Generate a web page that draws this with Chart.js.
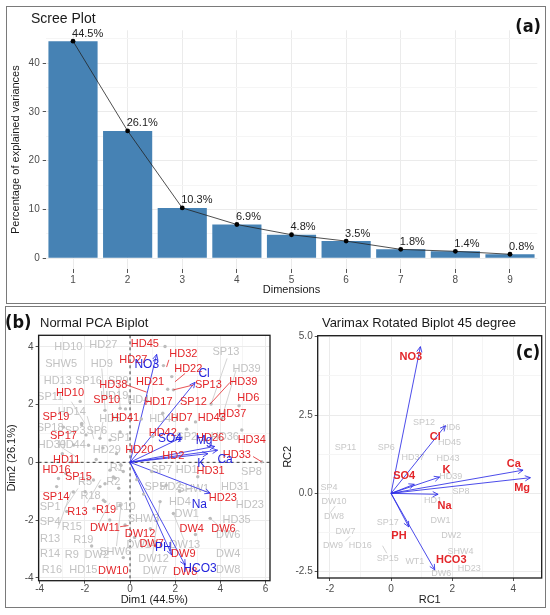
<!DOCTYPE html>
<html>
<head>
<meta charset="utf-8">
<script src="https://cdn.jsdelivr.net/npm/chart.js@4.4.1/dist/chart.umd.min.js"></script>
<style>
html, body { margin: 0; padding: 0; background: #fff; }
body { width: 550px; height: 615px; position: relative; overflow: hidden; }
canvas { position: absolute; left: 0; top: 0; }
.frame { position: absolute; border: 1.5px solid #7a7a7a; box-sizing: border-box; }
</style>
</head>
<body>
<div class="frame" style="left:6px;top:6px;width:540px;height:298px"></div>
<div class="frame" style="left:5px;top:306px;width:541px;height:302px"></div>
<canvas id="scree" width="550" height="615"></canvas>
<canvas id="pca" width="550" height="615"></canvas>
<canvas id="rot" width="550" height="615"></canvas>
<script>
// ---- (a) scree plot data ----
const dimLabels = ['1', '2', '3', '4', '5', '6', '7', '8', '9'];
const varianceExplained = [44.5, 26.1, 10.3, 6.9, 4.8, 3.5, 1.8, 1.4, 0.8];
const screeTicks = [0, 10, 20, 30, 40];
const screeMinorTicks = [5, 15, 25, 35, 45];

// ---- (b) normal PCA biplot data ----
const pcaTicksX = [-4, -2, 0, 2, 4, 6];
const pcaMinorX = [-3, -1, 1, 3, 5];
const pcaTicksY = [-4, -2, 0, 2, 4];
const pcaMinorY = [-3, -1, 1, 3];

const pcaVarNames = ['NO3', 'Cl', 'SO4', 'Mg', 'Ca', 'K', 'Na', 'PH', 'HCO3'];
const pcaVarX = [1.18, 2.88, 2.29, 3.75, 3.88, 3.45, 3.55, 1.85, 2.44];
const pcaVarY = [3.74, 2.77, 0.86, 0.55, 0.42, 0.30, -1.07, -3.21, -3.56];
const pcaVarLabelX = [0.74, 3.28, 1.77, 3.28, 4.21, 3.15, 3.07, 1.48, 3.10];
const pcaVarLabelY = [3.39, 3.08, 0.81, 0.74, 0.08, -0.03, -1.45, -2.96, -3.67];

const pcaRedNames = ['HD45', 'HD27', 'HD32', 'HD22', 'HD38', 'HD21', 'SP13', 'HD39', 'HD10', 'SP10',
    'HD17', 'SP12', 'HD6', 'SP19', 'HD41', 'HD7', 'HD43', 'HD37', 'SP17', 'HD42',
    'HD26', 'HD34', 'HD20', 'HD2', 'HD33', 'HD11', 'HD16', 'HD31', 'SP15', 'SP14',
    'HD23', 'R13', 'R19', 'DW11', 'DW12', 'DW4', 'DW6', 'DW7', 'DW9', 'DW10', 'DW8'];
const pcaRedX = [0.66, 0.15, 2.36, 2.58, -0.74, 0.89, 3.47, 5.02, -2.66, -1.03,
    1.26, 2.81, 5.24, -3.28, -0.22, 2.29, 3.62, 4.53, -2.95, 1.45,
    3.55, 5.39, 0.41, 1.92, 4.73, -2.81, -3.25, 3.57, -2.29, -3.28,
    4.11, -2.33, -1.06, -1.11, 0.44, 2.73, 4.14, 0.96, 2.36, -0.74, 2.44];
const pcaRedY = [4.09, 3.55, 3.74, 3.23, 2.68, 2.77, 2.68, 2.77, 2.39, 2.16,
    2.10, 2.10, 2.22, 1.58, 1.55, 1.55, 1.55, 1.66, 0.91, 1.00,
    0.85, 0.77, 0.43, 0.23, 0.25, 0.08, -0.25, -0.30, -0.50, -1.19,
    -1.22, -1.71, -1.65, -2.26, -2.47, -2.31, -2.31, -2.84, -3.19, -3.75, -3.79];

const pcaGrayNames = ['HD10', 'HD27', 'SHW5', 'HD9', 'HD13', 'SP16', 'SP9', 'SP11', 'HD19', 'HD4',
    'HD14', 'HD5', 'HD40', 'SP18', 'SP3', 'SP6', 'SP1', 'HD30', 'HD44', 'HD29',
    'SP2', 'SP13', 'HD39', 'SP7', 'HD1', 'SP8', 'SP5', 'HD2', 'SHW1', 'HD31',
    'HD4', 'HD23', 'DW1', 'HD35', 'DW6', 'DW13', 'DW4', 'DW8', 'DW7', 'DW12',
    'R5', 'R1', 'R2', 'R18', 'SP1', 'R10', 'SP4', 'R15', 'R13', 'R19',
    'R14', 'R9', 'DW2', 'SHW6', 'R16', 'HD15', 'DW14', 'SHW3', 'HD36'];
const pcaGrayX = [-2.73, -1.18, -3.05, -1.25, -3.20, -1.84, -0.52, -3.54, -0.70, 0.37,
    -2.58, -0.88, 1.47, -3.54, -2.43, -1.47, -0.44, -3.46, -2.58, -1.03,
    2.51, 4.25, 5.16, 1.40, 2.51, 5.38, 1.10, 1.80, 2.80, 4.65,
    2.21, 5.31, 2.51, 4.72, 4.35, 2.43, 4.35, 4.35, 1.10, 1.04,
    -1.99, -0.59, -0.74, -1.75, -3.54, -0.20, -3.54, -2.58, -3.54, -2.07,
    -3.54, -2.58, -1.47, -0.66, -3.46, -2.07, 0.52, 0.60, 4.20];
const pcaGrayY = [4.01, 4.08, 3.41, 3.41, 2.81, 2.81, 2.81, 2.26, 2.30, 2.15,
    1.74, 1.49, 1.51, 1.18, 1.10, 1.08, 0.83, 0.59, 0.59, 0.42,
    0.88, 3.82, 3.24, -0.28, -0.28, -0.33, -0.85, -0.85, -0.91, -0.85,
    -1.37, -1.46, -1.78, -2.00, -2.53, -2.87, -3.16, -3.74, -3.76, -3.33,
    -0.68, -0.21, -0.67, -1.15, -1.55, -1.55, -2.07, -2.24, -2.64, -2.70,
    -3.16, -3.20, -3.20, -3.10, -3.74, -3.74, -2.87, -1.95, 0.88];

const pcaDotX = [1.55, 1.48, 1.85, 1.67, 1.92, 3.59, 4.83, 4.06, 4.95, 5.83,
    1.45, 2.51, 3.32, -2.14, -1.95, -1.33, -0.89, -2.58, -2.84, -3.25,
    -1.62, -1.33, -1.99, -0.89, -0.30, -0.66, -1.11, -0.44, -0.22, 1.33,
    1.92, 3.55, 0.96, 1.60, -2.21, -1.11, -0.44, -0.20, -2.14, -2.95,
    -0.44, -1.84, -1.20, -0.60, -3.17, -2.51, -1.11, -0.74, -1.18, -0.50,
    0.30, 0.60, -0.90, -1.60, 0.20, 0.90, 2.90, 2.20, 3.00, -2.50,
    -1.50, -0.40, -3.00, 0.50, 1.00, 2.90, -2.80, -0.30, -1.70];
const pcaDotY = [4.01, 3.35, 2.97, 2.53, 2.51, 2.02, 1.96, 1.52, 1.12, 0.02,
    1.70, 1.15, 0.77, 1.35, 0.95, 0.83, 0.77, 0.02, -0.38, -0.84,
    -0.61, -0.84, -1.02, -0.27, -0.32, -0.55, -1.36, -1.48, -2.17, -1.36,
    -1.77, -1.94, -0.32, -0.79, 2.11, 1.80, 1.87, 1.85, 1.30, 1.22,
    1.05, 0.59, 0.50, 0.30, -0.56, -1.03, -0.74, -0.51, -1.31, -0.90,
    -0.60, -1.10, -2.00, -1.60, -2.60, -2.30, -2.50, -1.00, -0.50, 0.60,
    0.10, -0.10, 0.30, 1.50, 0.90, 1.40, -1.70, -3.30, -2.90];

// label-to-point connectors [x1, y1, x2, y2]
const pcaRedLinks = [[2.44, 3.08, 1.99, 2.79], [-0.15, 2.68, 0.74, 2.43], [2.81, 2.68, 1.92, 2.51],
    [4.43, 2.77, 3.55, 2.02], [5.45, 0.20, 5.83, 0.02], [-0.44, -2.23, -0.07, -2.19], [1.72, 3.55, 1.62, 3.30]];
const pcaGrayLinks = [[-2.0, 1.35, -2.6, 2.1], [-1.6, 0.8, -1.9, 1.6], [-2.4, 0.2, -3.0, 0.5],
    [-1.3, -0.6, -1.9, -1.4], [-2.3, -0.9, -2.9, -1.6], [-0.9, -1.4, -1.5, -2.3], [-0.4, -1.5, -0.6, -2.9],
    [-2.6, -1.0, -3.2, -2.3], [4.06, 1.52, 4.7, 3.2], [3.59, 2.02, 4.3, 3.6], [1.92, -1.77, 2.4, -2.7],
    [3.55, -1.94, 4.3, -2.45], [1.33, -1.36, 1.0, -3.2], [-1.33, 0.83, -1.2, 1.4], [-1.1, 1.8, -1.25, 3.25],
    [-0.44, 1.87, -0.5, 2.7], [2.2, -1.0, 2.8, -0.9], [-0.3, -0.32, -0.6, -0.2]];

// ---- (c) varimax rotated biplot data ----
const rotTicksX = [-2, 0, 2, 4];
const rotMinorX = [-1, 1, 3];
const rotTicksY = [-2.5, 0, 2.5, 5];
const rotMinorY = [-1.25, 1.25, 3.75];

const rotVarNames = ['NO3', 'Cl', 'SO4', 'K', 'Ca', 'Mg', 'Na', 'PH', 'HCO3'];
const rotVarX = [0.96, 1.78, 0.76, 1.59, 4.32, 4.56, 1.54, 0.58, 1.43];
const rotVarY = [4.68, 2.16, 0.29, 0.52, 0.74, 0.50, -0.03, -1.07, -2.44];
const rotLabelX = [0.65, 1.45, 0.43, 1.81, 4.02, 4.29, 1.75, 0.26, 1.97];
const rotLabelY = [4.36, 1.79, 0.56, 0.75, 0.93, 0.18, -0.39, -1.37, -2.12];

const rotGrayNames = ['SP12', 'HD6', 'HD45', 'SP11', 'SP6', 'HD37', 'HD43', 'HD39', 'SP4', 'SP8',
    'DW10', 'HD1', 'DW8', 'SP17', 'DW1', 'DW7', 'DW2', 'DW9', 'HD16', 'SHW4',
    'SP15', 'WT1', 'HD23', 'DW6'];
const rotGrayX = [1.08, 1.97, 1.91, -1.49, -0.16, 0.72, 1.86, 1.95, -2.03, 2.29,
    -1.87, 1.37, -1.87, -0.11, 1.62, -1.49, 1.97, -1.90, -1.01, 2.27,
    -0.11, 0.78, 2.56, 1.64];
const rotGrayY = [2.27, 2.09, 1.61, 1.47, 1.47, 1.15, 1.12, 0.54, 0.18, 0.07,
    -0.25, -0.22, -0.75, -0.92, -0.87, -1.21, -1.35, -1.66, -1.66, -1.87,
    -2.09, -2.17, -2.41, -2.55];
const rotGrayLinks = [[-1.83, -0.41, -1.99, -0.62], [-1.34, -1.37, -1.50, -1.53], [-0.28, -1.67, -0.14, -1.91]];

// ---- common settings ----
Chart.defaults.font.family = "'Liberation Sans', Arial, sans-serif";
Chart.defaults.color = '#4D4D4D';
Chart.defaults.animation = false;

const BLUE_ARROW = 'rgba(45, 45, 230, 0.85)';
const BLUE_TEXT = '#2424DC';
const RED_TEXT = '#E3262A';
const BADGE_FONT = "bold 18px 'Liberation Sans Narrow', 'DejaVu Sans Condensed', sans-serif";

// Build a linear scale with major + minor ticks
function makeScale(o) {
    return {
        type: o.type || 'linear',
        min: o.min,
        max: o.max,
        afterBuildTicks: scale => {
            scale.ticks = o.major.concat(o.minor).sort((a, b) => a - b).map(v => ({ value: v }));
        },
        afterFit: scale => {
            if (o.width) scale.width = o.width;
            if (o.height) scale.height = o.height;
        },
        ticks: {
            autoSkip: false,
            maxRotation: 0,
            padding: o.pad,
            font: { size: o.fontSize },
            color: '#4D4D4D',
            callback: v => o.major.includes(v) ? o.fmt(v) : ''
        },
        grid: {
            color: ctx => (ctx.tick && o.major.includes(ctx.tick.value)) ? '#EBEBEB' : '#F5F5F5',
            tickColor: ctx => (ctx.tick && o.major.includes(ctx.tick.value)) ? '#555' : 'rgba(0,0,0,0)',
            tickLength: 3
        },
        border: { display: false },
        title: { display: true, text: o.title, color: '#1a1a1a', font: { size: 11 }, padding: 0 }
    };
}

// ---- (a) Scree plot ----
const screeLabels = {
    id: 'screeLabels',
    afterDatasetsDraw(chart) {
        const ctx = chart.ctx;
        const meta = chart.getDatasetMeta(0);
        ctx.save();
        ctx.fillStyle = '#222';
        ctx.font = "11px 'Liberation Sans', Arial, sans-serif";
        ctx.textAlign = 'left';
        ctx.textBaseline = 'bottom';
        meta.data.forEach((pt, i) => {
            ctx.fillText(varianceExplained[i].toFixed(1) + '%', pt.x - 1, pt.y - 2);
        });
        // titles
        ctx.font = "14px 'Liberation Sans', Arial, sans-serif";
        ctx.textBaseline = 'middle';
        ctx.fillStyle = '#1a1a1a';
        ctx.fillText('Scree Plot', 31, 19);
        ctx.font = BADGE_FONT;
        ctx.textAlign = 'right';
        ctx.fillStyle = '#111';
        ctx.fillText('(a)', 541, 27);
        ctx.restore();
    }
};

new Chart(document.getElementById('scree'), {
    type: 'bar',
    data: {
        labels: dimLabels,
        datasets: [
            {
                type: 'line',
                data: varianceExplained,
                borderColor: '#222',
                borderWidth: 0.8,
                pointRadius: 2.4,
                pointBackgroundColor: '#000',
                pointBorderWidth: 0,
                tension: 0,
                order: 0
            },
            {
                type: 'bar',
                data: varianceExplained,
                backgroundColor: '#4682B4',
                categoryPercentage: 0.9,
                barPercentage: 1.0,
                order: 1
            }
        ]
    },
    options: {
        responsive: false,
        animation: false,
        layout: { padding: { left: 9.7, right: 12.7, top: 30.3, bottom: 318.4 } },
        plugins: { legend: { display: false }, tooltip: { enabled: false } },
        scales: {
            x: {
                offset: true,
                grid: { offset: false, color: '#EBEBEB', tickColor: '#555', tickLength: 4 },
                border: { display: false },
                ticks: { padding: 1, font: { size: 10 }, color: '#4D4D4D' },
                title: { display: true, text: 'Dimensions', color: '#1a1a1a', font: { size: 11 }, padding: 0 },
                afterFit: scale => { scale.height = 27.6; }
            },
            y: makeScale({
                min: -2.225, max: 46.725, major: screeTicks, minor: screeMinorTicks,
                fmt: v => String(v), title: 'Percentage of explained variances',
                width: 36, pad: 3, fontSize: 10
            })
        }
    },
    plugins: [screeLabels]
});

// ---- biplot helper ----
function biplotPlugin(cfg) {
    return {
        id: 'biplot_' + cfg.id,
        beforeDatasetsDraw(chart) {
            const { ctx, chartArea: a, scales: { x, y } } = chart;
            ctx.save();
            ctx.beginPath();
            ctx.rect(a.left, a.top, a.width, a.height);
            ctx.clip();
            if (cfg.zeroLines) {
                ctx.strokeStyle = '#222';
                ctx.lineWidth = 0.9;
                ctx.setLineDash([3, 3]);
                ctx.beginPath();
                ctx.moveTo(x.getPixelForValue(0), a.top);
                ctx.lineTo(x.getPixelForValue(0), a.bottom);
                ctx.moveTo(a.left, y.getPixelForValue(0));
                ctx.lineTo(a.right, y.getPixelForValue(0));
                ctx.stroke();
                ctx.setLineDash([]);
            }
            ctx.strokeStyle = '#C8C8C8';
            ctx.lineWidth = 0.8;
            cfg.grayLinks.forEach(s => {
                ctx.beginPath();
                ctx.moveTo(x.getPixelForValue(s[0]), y.getPixelForValue(s[1]));
                ctx.lineTo(x.getPixelForValue(s[2]), y.getPixelForValue(s[3]));
                ctx.stroke();
            });
            ctx.fillStyle = cfg.grayColor;
            ctx.font = cfg.grayFont;
            ctx.textAlign = 'center';
            ctx.textBaseline = 'middle';
            cfg.grayNames.forEach((n, i) => {
                ctx.fillText(n, x.getPixelForValue(cfg.grayX[i]), y.getPixelForValue(cfg.grayY[i]));
            });
            ctx.restore();
        },
        afterDatasetsDraw(chart) {
            const { ctx, chartArea: a, scales: { x, y } } = chart;
            ctx.save();
            ctx.beginPath();
            ctx.rect(a.left, a.top, a.width, a.height);
            ctx.clip();
            // arrow heads
            const ox = x.getPixelForValue(0), oy = y.getPixelForValue(0);
            ctx.strokeStyle = BLUE_ARROW;
            ctx.lineWidth = 1;
            cfg.varX.forEach((vx, i) => {
                const px = x.getPixelForValue(vx), py = y.getPixelForValue(cfg.varY[i]);
                const ang = Math.atan2(py - oy, px - ox);
                const L = 6;
                ctx.beginPath();
                ctx.moveTo(px - L * Math.cos(ang - 0.45), py - L * Math.sin(ang - 0.45));
                ctx.lineTo(px, py);
                ctx.lineTo(px - L * Math.cos(ang + 0.45), py - L * Math.sin(ang + 0.45));
                ctx.stroke();
            });
            // red connectors
            ctx.strokeStyle = RED_TEXT;
            ctx.lineWidth = 0.8;
            (cfg.redLinks || []).forEach(s => {
                ctx.beginPath();
                ctx.moveTo(x.getPixelForValue(s[0]), y.getPixelForValue(s[1]));
                ctx.lineTo(x.getPixelForValue(s[2]), y.getPixelForValue(s[3]));
                ctx.stroke();
            });
            ctx.textAlign = 'center';
            ctx.textBaseline = 'middle';
            // red labels
            ctx.fillStyle = RED_TEXT;
            ctx.font = cfg.redFont;
            cfg.redNames.forEach((n, i) => {
                ctx.fillText(n, x.getPixelForValue(cfg.redX[i]), y.getPixelForValue(cfg.redY[i]));
            });
            // variable labels
            ctx.fillStyle = cfg.varColor;
            ctx.font = cfg.varFont;
            cfg.varNames.forEach((n, i) => {
                ctx.fillText(n, x.getPixelForValue(cfg.labelX[i]), y.getPixelForValue(cfg.labelY[i]));
            });
            ctx.restore();
            // panel border
            ctx.save();
            ctx.strokeStyle = '#1a1a1a';
            ctx.lineWidth = 1.3;
            ctx.strokeRect(a.left, a.top, a.width, a.height);
            cfg.drawTitles(ctx, a);
            ctx.restore();
        }
    };
}

function arrowDatasets(names, xs, ys) {
    return names.map((n, i) => ({
        label: n,
        data: [{ x: 0, y: 0 }, { x: xs[i], y: ys[i] }],
        showLine: true,
        borderColor: BLUE_ARROW,
        borderWidth: 1,
        pointRadius: 0
    }));
}

// ---- (b) Normal PCA biplot ----
const pcaDatasets = [{
    label: 'individuals',
    data: pcaDotX.map((v, i) => ({ x: v, y: pcaDotY[i] })),
    pointRadius: 1.7,
    pointBackgroundColor: '#BDBDBD',
    pointBorderWidth: 0,
    showLine: false
}].concat(arrowDatasets(pcaVarNames, pcaVarX, pcaVarY));

new Chart(document.getElementById('pca'), {
    type: 'scatter',
    data: { datasets: pcaDatasets },
    options: {
        responsive: false,
        animation: false,
        layout: { padding: { left: 5.6, right: 280, top: 335.3, bottom: 8 } },
        plugins: { legend: { display: false }, tooltip: { enabled: false } },
        scales: {
            x: makeScale({ min: -4.05, max: 6.2, major: pcaTicksX, minor: pcaMinorX, fmt: v => String(v),
                title: 'Dim1 (44.5%)', height: 26.3, pad: 0, fontSize: 10 }),
            y: makeScale({ min: -4.1, max: 4.4, major: pcaTicksY, minor: pcaMinorY, fmt: v => String(v),
                title: 'Dim2 (26.1%)', width: 33, pad: 2, fontSize: 10 })
        }
    },
    plugins: [biplotPlugin({
        id: 'pca',
        zeroLines: true,
        grayNames: pcaGrayNames, grayX: pcaGrayX, grayY: pcaGrayY,
        grayColor: '#C2C2C2', grayFont: "11px 'Liberation Sans', Arial, sans-serif",
        grayLinks: pcaGrayLinks, redLinks: pcaRedLinks,
        redNames: pcaRedNames, redX: pcaRedX, redY: pcaRedY,
        redFont: "11px 'Liberation Sans', Arial, sans-serif",
        varNames: pcaVarNames, varX: pcaVarX, varY: pcaVarY, labelX: pcaVarLabelX, labelY: pcaVarLabelY,
        varColor: BLUE_TEXT, varFont: "12px 'Liberation Sans', Arial, sans-serif",
        drawTitles: (ctx) => {
            ctx.textBaseline = 'middle';
            ctx.textAlign = 'left';
            ctx.fillStyle = '#111';
            ctx.font = BADGE_FONT;
            ctx.fillText('(b)', 5, 323);
            ctx.fillStyle = '#1a1a1a';
            ctx.font = "13px 'Liberation Sans', Arial, sans-serif";
            ctx.fillText('Normal PCA Biplot', 40, 323);
        }
    })]
});

// ---- (c) Varimax rotated biplot ----
new Chart(document.getElementById('rot'), {
    type: 'scatter',
    data: { datasets: arrowDatasets(rotVarNames, rotVarX, rotVarY) },
    options: {
        responsive: false,
        animation: false,
        layout: { padding: { left: 281.7, right: 8.3, top: 335.7, bottom: 8 } },
        plugins: { legend: { display: false }, tooltip: { enabled: false } },
        scales: {
            x: makeScale({ min: -2.4, max: 4.93, major: rotTicksX, minor: rotMinorX, fmt: v => String(v),
                title: 'RC1', height: 29, pad: 2, fontSize: 10 }),
            y: makeScale({ min: -2.7, max: 5.03, major: rotTicksY, minor: rotMinorY, fmt: v => v.toFixed(1),
                title: 'RC2', width: 36, pad: 2, fontSize: 10 })
        }
    },
    plugins: [biplotPlugin({
        id: 'rot',
        zeroLines: false,
        grayNames: rotGrayNames, grayX: rotGrayX, grayY: rotGrayY,
        grayColor: '#C8C8C8', grayFont: "9px 'Liberation Sans', Arial, sans-serif",
        grayLinks: rotGrayLinks,
        redNames: [], redX: [], redY: [],
        redFont: "bold 11px 'Liberation Sans', Arial, sans-serif",
        varNames: rotVarNames, varX: rotVarX, varY: rotVarY, labelX: rotLabelX, labelY: rotLabelY,
        varColor: RED_TEXT, varFont: "bold 11px 'Liberation Sans', Arial, sans-serif",
        drawTitles: (ctx) => {
            ctx.textBaseline = 'middle';
            ctx.textAlign = 'center';
            ctx.fillStyle = '#1a1a1a';
            ctx.font = "13px 'Liberation Sans', Arial, sans-serif";
            ctx.fillText('Varimax Rotated Biplot 45 degree', 419, 323);
            ctx.fillStyle = '#111';
            ctx.font = BADGE_FONT;
            ctx.fillText('(c)', 528, 353);
        }
    })]
});
</script>
</body>
</html>
